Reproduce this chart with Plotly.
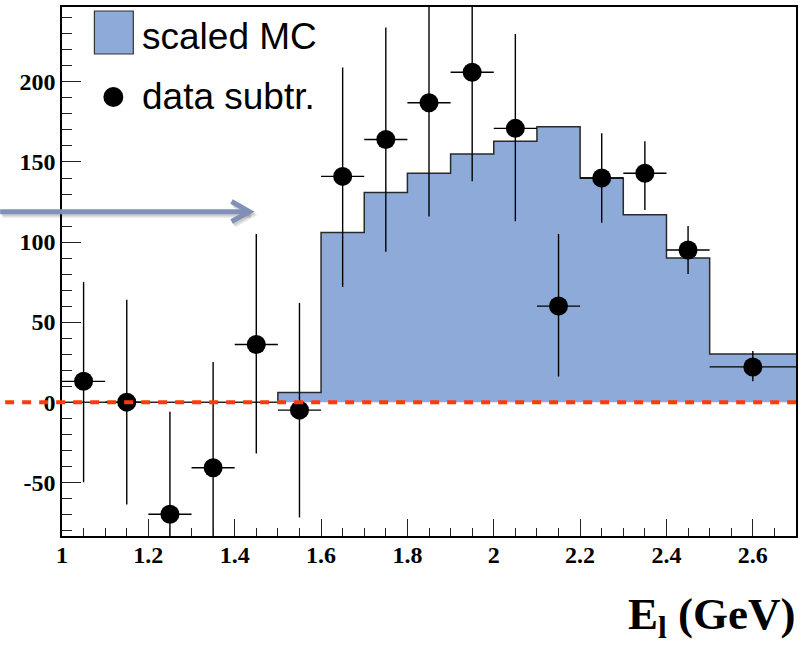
import plotly.graph_objects as go

# ---------------- data ----------------
bin_edges = [1.0, 1.1, 1.2, 1.3, 1.4, 1.5, 1.6, 1.7, 1.8, 1.9, 2.0, 2.1, 2.2, 2.3, 2.4, 2.5, 2.7]
mc_values = [0, 0, 0, 0, 0, 6, 106, 131, 143, 155, 163, 172, 140, 117, 90, 30]

data_x = [1.05, 1.15, 1.25, 1.35, 1.45, 1.55, 1.65, 1.75, 1.85, 1.95, 2.05, 2.15, 2.25, 2.35, 2.45, 2.6]
data_y = [13, 0, -70, -41, 36, -5, 141, 164, 187, 206, 171, 60, 140, 143, 95, 22]
data_err_up = [62, 64, 64, 66, 69, 67, 68, 70, 75, 70, 59, 45, 28, 20, 15, 10]
data_err_dn = [63, 64, 30, 66, 68, 67, 69, 70, 71, 68, 58, 44, 28, 23, 15, 9]
data_xerr = [0.05] * 15 + [0.1]

x_ticks = [1, 1.2, 1.4, 1.6, 1.8, 2, 2.2, 2.4, 2.6]
x_tick_labels = ["1", "1.2", "1.4", "1.6", "1.8", "2", "2.2", "2.4", "2.6"]
y_ticks = [-50, 0, 50, 100, 150, 200]
y_tick_labels = ["-50", "0", "50", "100", "150", "200"]

X_RANGE = [1.0, 2.7]
Y_RANGE = [-83.6, 246.8]

legend_labels = ["scaled MC", "data subtr."]
x_title = "E<sub>l</sub> (GeV)"

# ---------------- figure ----------------
W, H = 801, 647
ML, MR, MT, MB = 62, 3, 7, 111
PW, PH = W - ML - MR, H - MT - MB

def px_x(p):  # pixel -> paper x
    return (p - ML) / PW

def px_y(p):  # pixel -> paper y
    return (H - MB - p) / PH

def data_to_paper_y(v):
    return (v - Y_RANGE[0]) / (Y_RANGE[1] - Y_RANGE[0])

MC_FILL = "#8eaad9"

fig = go.Figure()

# histogram (step outline, filled)
step_x = list(bin_edges)
step_y = list(mc_values) + [mc_values[-1]]
fig.add_trace(go.Scatter(
    x=step_x, y=step_y, mode="lines", line=dict(shape="hv", color="#2a2a2a", width=1.5),
    fill="tozeroy", fillcolor=MC_FILL, name=legend_labels[0], showlegend=False,
    hoverinfo="skip",
))

# data points with error bars
fig.add_trace(go.Scatter(
    x=data_x, y=data_y, mode="markers",
    marker=dict(color="black", size=19, symbol="circle"),
    error_y=dict(type="data", symmetric=False, array=data_err_up, arrayminus=data_err_dn,
                 color="black", thickness=1.4, width=0),
    error_x=dict(type="data", array=data_xerr, color="black", thickness=1.4, width=0),
    name=legend_labels[1], showlegend=False,
))

shapes = []
# red dashed zero line (extends left of the frame)
y0p = data_to_paper_y(0)
shapes.append(dict(type="line", xref="paper", yref="paper", x0=px_x(5), x1=1.0, y0=y0p, y1=y0p,
                   line=dict(color="#ff3a0a", width=4, dash="9px,8px"), layer="above"))

# arrow (with soft shadow)
ay = 211.7
for dx, dy, col in [(2.5, 3.5, "rgba(0,0,0,0.10)"), (1.5, 2, "rgba(0,0,0,0.10)"), (0, 0, "#8190b6")]:
    shapes.append(dict(type="line", xref="paper", yref="paper",
                       x0=px_x(0 + dx), x1=px_x(249 + dx), y0=px_y(ay + dy), y1=px_y(ay + dy),
                       line=dict(color=col, width=5), layer="above"))
    shapes.append(dict(type="path", xref="paper", yref="paper",
                       path=f"M {px_x(232 + dx)} {px_y(201.5 + dy)} L {px_x(250 + dx)} {px_y(ay + dy)} L {px_x(232 + dx)} {px_y(221.5 + dy)}",
                       line=dict(color=col, width=5), layer="above"))

# legend box
shapes.append(dict(type="rect", xref="paper", yref="paper",
                   x0=px_x(94.5), x1=px_x(133.5), y0=px_y(54), y1=px_y(11),
                   fillcolor=MC_FILL, line=dict(color="#333333", width=1.2), layer="above"))
# legend marker
shapes.append(dict(type="circle", xref="paper", yref="paper",
                   x0=px_x(103.5), x1=px_x(123.5), y0=px_y(107), y1=px_y(87),
                   fillcolor="black", line=dict(color="black", width=0), layer="above"))

fig.update_layout(shapes=shapes)

annotations = [
    dict(text=legend_labels[0], xref="paper", yref="paper", x=px_x(140), y=px_y(37),
         xanchor="left", yanchor="middle", showarrow=False,
         font=dict(family="Liberation Sans", size=37, color="black")),
    dict(text=legend_labels[1], xref="paper", yref="paper", x=px_x(140), y=px_y(97),
         xanchor="left", yanchor="middle", showarrow=False,
         font=dict(family="Liberation Sans", size=37, color="black")),
    dict(text=x_title, xref="paper", yref="paper", x=px_x(799), y=px_y(617),
         xanchor="right", yanchor="middle", showarrow=False,
         font=dict(family="Liberation Serif", size=45, color="black", weight="bold")),
]
fig.update_layout(annotations=annotations)

axis_common = dict(
    showgrid=False, zeroline=False, showline=True, linecolor="black", linewidth=1.5,
    mirror=True, ticks="inside", tickcolor="#222222", tickwidth=1,
)

fig.update_xaxes(
    range=X_RANGE, tickmode="array", tickvals=x_ticks, ticktext=x_tick_labels,
    ticklen=17,
    minor=dict(ticks="inside", dtick=0.05, tick0=1.0, ticklen=8, tickcolor="#222222", tickwidth=1),
    tickfont=dict(family="Liberation Serif", size=24, color="black", weight="bold"),
    ticklabelstandoff=-4,
    **axis_common,
)
fig.update_yaxes(
    range=Y_RANGE, tickmode="array", tickvals=y_ticks, ticktext=y_tick_labels,
    ticklen=19,
    minor=dict(ticks="inside", dtick=10, tick0=0, ticklen=10, tickcolor="#222222", tickwidth=1),
    tickfont=dict(family="Liberation Serif", size=24, color="black", weight="bold"),
    ticklabelstandoff=0,
    **axis_common,
)

fig.update_layout(
    width=W, height=H,
    margin=dict(l=ML, r=MR, t=MT, b=MB, pad=0),
    paper_bgcolor="white", plot_bgcolor="white",
    showlegend=False,
)

fig.write_html("out.html", config={"displayModeBar": False},
               post_script="document.body.style.margin='0px';")
